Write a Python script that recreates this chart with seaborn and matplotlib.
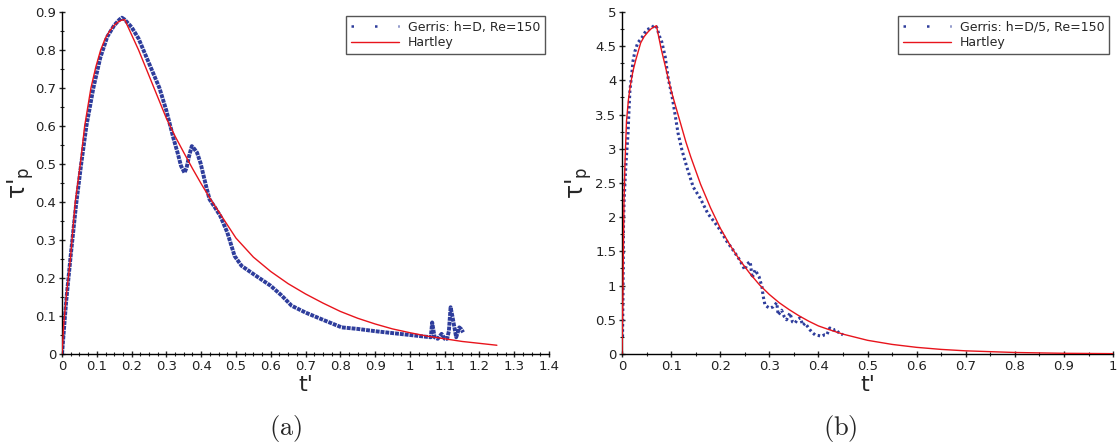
import numpy as np
import pandas as pd
import matplotlib
matplotlib.use("Agg")
import matplotlib.pyplot as plt
import seaborn as sns
from matplotlib.lines import Line2D
from matplotlib.ticker import MultipleLocator, FuncFormatter

# panel (a): h=D
ha_t = [0, 0.005, 0.013, 0.024, 0.038, 0.054, 0.065, 0.083, 0.097, 0.111, 0.124, 0.137,
        0.15, 0.16, 0.17, 0.18, 0.2, 0.22, 0.24, 0.26, 0.28, 0.3, 0.325, 0.35, 0.375,
        0.4, 0.425, 0.45, 0.475, 0.5, 0.55, 0.6, 0.65, 0.7, 0.75, 0.8, 0.85, 0.9, 0.95,
        1.0, 1.05, 1.1, 1.15, 1.2, 1.25]
ha_v = [0, 0.08, 0.16, 0.25, 0.40, 0.51, 0.60, 0.70, 0.755, 0.80, 0.83, 0.85,
        0.865, 0.873, 0.878, 0.88, 0.84, 0.80, 0.755, 0.71, 0.665, 0.62, 0.573, 0.53, 0.488,
        0.448, 0.41, 0.375, 0.34, 0.305, 0.255, 0.217, 0.185, 0.158, 0.134, 0.112, 0.094, 0.079, 0.066,
        0.056, 0.047, 0.04, 0.033, 0.028, 0.023]

ga_t = [0, 0.005, 0.012, 0.025, 0.04, 0.055, 0.07, 0.09, 0.11, 0.13,
        0.15, 0.165, 0.172, 0.18, 0.19, 0.2, 0.22, 0.25, 0.28, 0.3,
        0.321, 0.332, 0.342, 0.352, 0.358, 0.365, 0.373, 0.38, 0.388, 0.398,
        0.414, 0.424, 0.44, 0.455, 0.475, 0.496, 0.516, 0.557, 0.599, 0.63,
        0.66, 0.7, 0.75, 0.804, 0.85, 0.9, 0.95, 1.0, 1.04, 1.06,
        1.064, 1.071, 1.08, 1.091, 1.1, 1.107, 1.112, 1.117, 1.122, 1.133,
        1.142, 1.148, 1.153]
ga_v = [0, 0.06, 0.14, 0.26, 0.39, 0.5, 0.6, 0.70, 0.78, 0.835,
        0.865, 0.88, 0.885, 0.88, 0.87, 0.86, 0.83, 0.765, 0.70, 0.64,
        0.565, 0.53, 0.495, 0.477, 0.49, 0.52, 0.547, 0.54, 0.53, 0.503,
        0.442, 0.407, 0.385, 0.363, 0.32, 0.258, 0.232, 0.206, 0.18, 0.155,
        0.127, 0.109, 0.09, 0.07, 0.066, 0.06, 0.055, 0.05, 0.046, 0.044,
        0.083, 0.044, 0.04, 0.053, 0.04, 0.04, 0.06, 0.123, 0.1, 0.044,
        0.07, 0.065, 0.057]

# panel (b): h=D/5
hb_t = [0, 0.001, 0.002, 0.003, 0.004, 0.006, 0.009, 0.013, 0.017, 0.022, 0.028, 0.038,
        0.045, 0.053, 0.06, 0.07, 0.08, 0.09, 0.1, 0.11, 0.12, 0.13, 0.14, 0.15, 0.16,
        0.18, 0.2, 0.22, 0.24, 0.26, 0.28, 0.3, 0.32, 0.34, 0.36, 0.38, 0.4, 0.42, 0.45,
        0.5, 0.55, 0.6, 0.65, 0.7, 0.8, 0.9, 1.0]
hb_v = [0, 0.5, 1.0, 1.7, 2.24, 2.8, 3.4, 3.72, 3.93, 4.13, 4.3, 4.55,
        4.64, 4.71, 4.76, 4.8, 4.45, 4.15, 3.85, 3.6, 3.35, 3.1, 2.88, 2.68, 2.48,
        2.14, 1.84, 1.59, 1.37, 1.18, 1.01, 0.87, 0.75, 0.65, 0.56, 0.48, 0.41, 0.36, 0.29,
        0.2, 0.14, 0.097, 0.067, 0.046, 0.022, 0.01, 0.005]

gb_t = [0.001, 0.002, 0.003, 0.004, 0.006, 0.008, 0.010, 0.012, 0.013, 0.014,
        0.015, 0.016, 0.018, 0.021, 0.022, 0.026, 0.032, 0.040, 0.050, 0.060,
        0.067, 0.071, 0.076, 0.081, 0.088, 0.094, 0.102, 0.108, 0.114, 0.122,
        0.132, 0.145, 0.159, 0.175, 0.188, 0.200, 0.213, 0.226, 0.240, 0.250,
        0.255, 0.261, 0.265, 0.271, 0.275, 0.279, 0.285, 0.287, 0.291, 0.296,
        0.301, 0.308, 0.315, 0.318, 0.325, 0.330, 0.335, 0.342, 0.347, 0.352,
        0.357, 0.363, 0.368, 0.373, 0.378, 0.383, 0.388, 0.393, 0.400, 0.407,
        0.412, 0.417, 0.423, 0.430, 0.435, 0.440, 0.445, 0.450]
gb_v = [0.25, 0.94, 1.9, 2.2, 2.52, 2.79, 3.0, 3.2, 3.37, 3.54,
        3.7, 3.85, 3.98, 4.18, 4.27, 4.42, 4.55, 4.62, 4.74, 4.77,
        4.81, 4.77, 4.65, 4.56, 4.34, 4.03, 3.76, 3.5, 3.23, 2.98,
        2.73, 2.44, 2.28, 2.05, 1.93, 1.81, 1.65, 1.52, 1.37, 1.23,
        1.32, 1.35, 1.11, 1.23, 1.18, 1.13, 0.98, 0.86, 0.72, 0.69,
        0.67, 0.69, 0.75, 0.57, 0.64, 0.55, 0.5, 0.6, 0.47, 0.45,
        0.5, 0.53, 0.42, 0.45, 0.4, 0.35, 0.31, 0.28, 0.27, 0.26,
        0.28, 0.28, 0.38, 0.35, 0.36, 0.32, 0.3, 0.28]

labels_a = ["Gerris: h=D, Re=150", "Hartley"]
labels_b = ["Gerris: h=D/5, Re=150", "Hartley"]

BLUE = "#2e3d9c"
RED = "#e8141c"

sns.set_theme(style="ticks")
plt.rcParams["font.family"] = ["DejaVu Sans"]

fig = plt.figure(figsize=(11.18, 4.46), dpi=100)
ax_a = fig.add_axes([0.0555, 0.2063, 0.4356, 0.7668])
ax_b = fig.add_axes([0.5564, 0.2063, 0.4392, 0.7668])

fmt = FuncFormatter(lambda v, p: "%g" % round(v, 3))


def draw(ax, gt, gv, ht, hv, labels, xmax, ymax, xstep, ystep, xminor, g_lw, g_dash, ylab_x):
    sns.lineplot(x=gt, y=gv, ax=ax, color=BLUE, lw=g_lw, linestyle=g_dash,
                 sort=False, estimator=None, zorder=2)
    sns.lineplot(x=ht, y=hv, ax=ax, color=RED, lw=1.0, sort=False, estimator=None, zorder=3)
    ax.set_xlim(0, xmax)
    ax.set_ylim(0, ymax)
    ax.xaxis.set_major_locator(MultipleLocator(xstep))
    ax.xaxis.set_minor_locator(MultipleLocator(xminor))
    ax.yaxis.set_major_locator(MultipleLocator(ystep))
    ax.yaxis.set_minor_locator(MultipleLocator(ystep / 2))
    ax.xaxis.set_major_formatter(fmt)
    ax.yaxis.set_major_formatter(fmt)
    ax.tick_params(which="major", direction="inout", length=5, width=1, labelsize=9.5,
                   labelcolor="#222222", pad=1.5)
    ax.tick_params(which="minor", direction="inout", length=3, width=0.8)
    sns.despine(ax=ax)
    for s in ("left", "bottom"):
        ax.spines[s].set_linewidth(1.0)
        ax.spines[s].set_color("black")
    ax.set_xlabel("t'", fontsize=16, labelpad=2)
    ax.set_ylabel("τ'$_\\mathregular{p}$", fontsize=17)
    ax.yaxis.set_label_coords(ylab_x, 0.5)
    handles = [Line2D([], [], color=BLUE, lw=1.8, linestyle=(0, (1.0, 8.4))),
               Line2D([], [], color=RED, lw=1.0)]
    leg = ax.legend(handles, labels, loc="upper right", fontsize=9, frameon=True,
                    fancybox=False, framealpha=1, edgecolor="#555555", handlelength=3.85,
                    borderaxespad=0.3, borderpad=0.4, labelspacing=0.2, handletextpad=0.7)
    leg.get_frame().set_linewidth(1.0)


draw(ax_a, ga_t, ga_v, ha_t, ha_v, labels_a, 1.4, 0.9, 0.1, 0.1, 0.025, 2.8, (0, (1, 0.25)), -0.053)
draw(ax_b, gb_t, gb_v, hb_t, hb_v, labels_b, 1.0, 5.0, 0.1, 0.5, 0.05, 2.2, (0, (0.8, 0.9)), -0.057)

fig.text(0.255, 0.04, r"$\mathrm{(a)}$", fontsize=19, ha="center", va="center", math_fontfamily="cm")
fig.text(0.752, 0.04, r"$\mathrm{(b)}$", fontsize=19, ha="center", va="center", math_fontfamily="cm")

fig.savefig("out.png", dpi=100)
